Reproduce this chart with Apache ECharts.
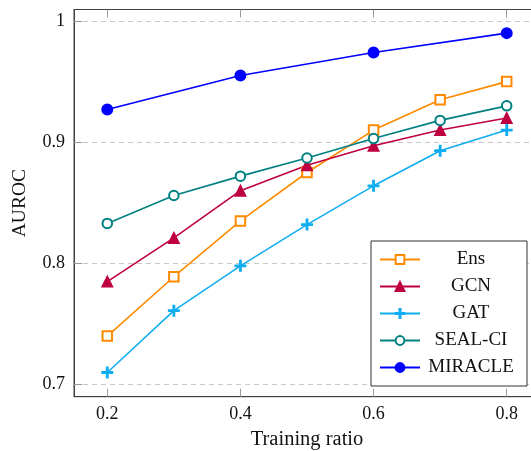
<!DOCTYPE html>
<html>
<head>
<meta charset="utf-8">
<script src="https://cdn.jsdelivr.net/npm/echarts@6/dist/echarts.min.js"></script>
<style>
html,body{margin:0;padding:0;background:#fff;}
#chart{width:531px;height:451px;}
</style>
</head>
<body>
<div id="chart"></div>
<script>
// Data
const seriesNames = ['Ens', 'GCN', 'GAT', 'SEAL-CI', 'MIRACLE'];
const ratios = [0.2, 0.3, 0.4, 0.5, 0.6, 0.7, 0.8];
const ensValues = [0.740, 0.789, 0.835, 0.875, 0.910, 0.935, 0.950];
const gcnValues = [0.785, 0.821, 0.860, 0.881, 0.897, 0.910, 0.920];
const gatValues = [0.710, 0.761, 0.798, 0.832, 0.864, 0.893, 0.910];
const sealValues = [0.833, 0.856, 0.872, 0.887, 0.903, 0.918, 0.930];
const miracleRatios = [0.2, 0.4, 0.6, 0.8];
const miracleValues = [0.927, 0.955, 0.974, 0.990];
const xTicks = [0.2, 0.4, 0.6, 0.8];
const yTicks = [0.7, 0.8, 0.9, 1];

const pair = (xs, ys) => xs.map((x, i) => [x, ys[i]]);
const FONT = '"Liberation Serif", "DejaVu Serif", serif';
const plusPath = 'path://M4.35,0H5.65V10H4.35Z M0,4.35H10V5.65H0Z';

function lineSeries(name, data, color, symbol, size) {
  return {
    name: name,
    type: 'line',
    data: data,
    symbol: symbol,
    symbolSize: size,
    showAllSymbol: true,
    color: color,
    lineStyle: { color: color, width: 1.6 },
    itemStyle: { color: color, borderColor: color, borderWidth: 1.5 },
    emphasis: { disabled: true },
    animation: false
  };
}

const chart = echarts.init(document.getElementById('chart'), null, { renderer: 'canvas' });
chart.setOption({
  backgroundColor: '#fff',
  animation: false,
  textStyle: { fontFamily: FONT },
  grid: {
    left: 74, top: 9.5, width: 466, height: 387.2,
    containLabel: false,
    outerBoundsMode: 'none',
    show: true, borderColor: '#404040', borderWidth: 1, backgroundColor: 'transparent'
  },
  xAxis: [{
    type: 'value',
    min: 0.15, max: 0.85,
    position: 'bottom',
    name: 'Training ratio',
    nameLocation: 'middle',
    nameGap: 32,
    nameTextStyle: { fontFamily: FONT, fontSize: 20.5, color: '#111' },
    axisLine: { show: true, lineStyle: { color: '#404040', width: 1 } },
    axisTick: { show: true, inside: true, length: 8, customValues: xTicks, lineStyle: { color: '#999' } },
    axisLabel: { show: true, customValues: xTicks, margin: 9, fontFamily: FONT, fontSize: 18, color: '#111',
      formatter: v => String(v) },
    splitLine: { show: false }
  }, {
    type: 'value',
    min: 0.15, max: 0.85,
    position: 'top',
    axisLine: { show: true, lineStyle: { color: '#404040', width: 1 } },
    axisTick: { show: true, inside: true, length: 8, customValues: xTicks, lineStyle: { color: '#999' } },
    axisLabel: { show: false },
    splitLine: { show: false }
  }],
  yAxis: {
    type: 'value',
    min: 0.69, max: 1.0095,
    name: 'AUROC',
    nameLocation: 'middle',
    nameGap: 44,
    nameRotate: 90,
    nameTextStyle: { fontFamily: FONT, fontSize: 19.5, color: '#111' },
    axisLine: { show: true, lineStyle: { color: '#404040', width: 1 } },
    axisTick: { show: true, inside: true, length: 8, customValues: yTicks, lineStyle: { color: '#999' } },
    axisLabel: { show: true, customValues: yTicks, margin: 9, fontFamily: FONT, fontSize: 18, color: '#111',
      formatter: v => (v === 1 ? '1' : v.toFixed(1)) },
    splitLine: { show: true, lineStyle: { color: '#c8c8c8', width: 1, type: [5, 4] } }
  },
  legend: {
    orient: 'vertical',
    left: 371, top: 241,
    padding: [9, 10, 9, 8],
    itemGap: 8,
    itemWidth: 40,
    itemHeight: 11,
    backgroundColor: '#fff',
    borderColor: '#333',
    borderWidth: 1,
    borderRadius: 0,
    selectedMode: false,
    data: seriesNames,
    formatter: n => '{a|' + n + '}',
    textStyle: {
      fontFamily: FONT, fontSize: 19, color: '#111',
      rich: { a: { width: 92, align: 'center', lineHeight: 20, fontFamily: FONT, fontSize: 19, color: '#111' } }
    }
  },
  series: [
    lineSeries(seriesNames[0], pair(ratios, ensValues), '#ff8a00', 'emptyRect', 9.5),
    lineSeries(seriesNames[1], pair(ratios, gcnValues), '#bf0040', 'triangle', 10.5),
    lineSeries(seriesNames[2], pair(ratios, gatValues), '#10aef0', plusPath, 10.5),
    lineSeries(seriesNames[3], pair(ratios, sealValues), '#008080', 'emptyCircle', 9.5),
    lineSeries(seriesNames[4], pair(miracleRatios, miracleValues), '#0000ff', 'circle', 10.5)
  ]
});
</script>
</body>
</html>
